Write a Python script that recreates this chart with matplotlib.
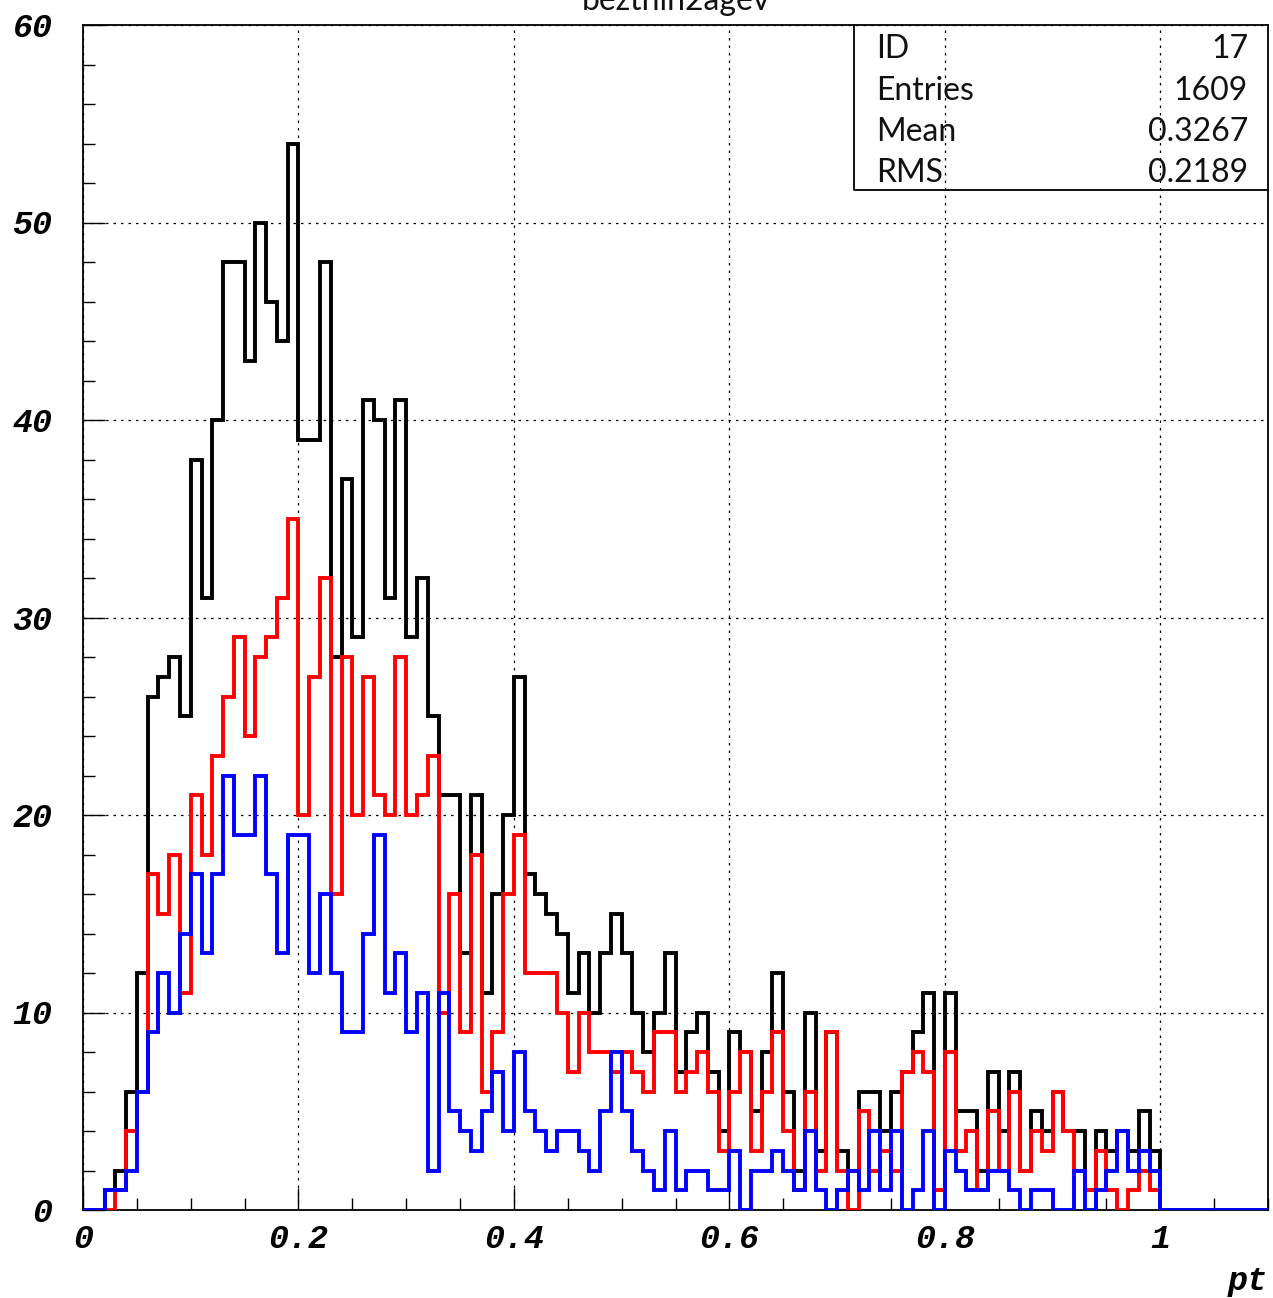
import numpy as np
import matplotlib
matplotlib.use('Agg')
import matplotlib.pyplot as plt
from matplotlib.ticker import MultipleLocator

# bin contents, 110 bins of width 0.01 from 0 to 1.1
total = [0, 0, 1, 2, 6, 12, 26, 27, 28, 25,
         38, 31, 40, 48, 48, 43, 50, 46, 44, 54,
         39, 39, 48, 28, 37, 29, 41, 40, 31, 41,
         29, 32, 25, 21, 21, 13, 21, 11, 16, 20,
         27, 17, 16, 15, 14, 11, 13, 10, 13, 15,
         13, 10, 8, 10, 13, 7, 9, 10, 7, 4,
         9, 8, 5, 8, 12, 6, 2, 10, 3, 9,
         3, 2, 6, 6, 4, 6, 7, 9, 11, 1,
         11, 5, 5, 2, 7, 4, 7, 2, 5, 4,
         6, 4, 4, 1, 4, 3, 4, 3, 5, 3] + [0] * 10

red = [0, 0, 0, 1, 4, 6, 17, 15, 18, 11,
       21, 18, 23, 26, 29, 24, 28, 29, 31, 35,
       20, 27, 32, 16, 28, 20, 27, 21, 20, 28,
       20, 21, 23, 10, 16, 9, 18, 6, 9, 16,
       19, 12, 12, 12, 10, 7, 10, 8, 8, 7,
       8, 7, 6, 9, 9, 6, 7, 8, 6, 3,
       6, 8, 3, 6, 9, 4, 1, 6, 2, 9,
       2, 0, 5, 2, 3, 2, 7, 8, 7, 1,
       8, 3, 4, 1, 5, 2, 6, 2, 4, 3,
       6, 4, 2, 1, 3, 1, 0, 1, 2, 1] + [0] * 10

blue = [0, 0, 1, 1, 2, 6, 9, 12, 10, 14,
        17, 13, 17, 22, 19, 19, 22, 17, 13, 19,
        19, 12, 16, 12, 9, 9, 14, 19, 11, 13,
        9, 11, 2, 11, 5, 4, 3, 5, 7, 4,
        8, 5, 4, 3, 4, 4, 3, 2, 5, 8,
        5, 3, 2, 1, 4, 1, 2, 2, 1, 1,
        3, 0, 2, 2, 3, 2, 1, 4, 1, 0,
        1, 2, 1, 4, 1, 4, 0, 1, 4, 0,
        3, 2, 1, 1, 2, 2, 1, 0, 1, 1,
        0, 0, 2, 0, 1, 2, 4, 2, 3, 2] + [0] * 10

edges = np.round(np.arange(111) * 0.01, 2)

stat_names = ['ID', 'Entries', 'Mean', 'RMS']
stat_values = ['17', '1609', '0.3267', '0.2189']

tick_font = dict(family='Liberation Mono', weight='bold', style='italic', size=24)
thin_font = dict(family='Lato', weight='normal', size=23)

fig = plt.figure(figsize=(12.73, 12.98), dpi=100)
ax = fig.add_axes([83 / 1273, 88 / 1298, 1185 / 1273, 1185 / 1298])

ax.stairs(total, edges, color='black', lw=2.8, zorder=3)
ax.stairs(red, edges, color='#ff0000', lw=2.8, zorder=4)
ax.stairs(blue, edges, color='#0000ff', lw=2.8, zorder=5)

ax.set_xlim(0, 1.1)
ax.set_ylim(0, 60)

ax.xaxis.set_major_locator(MultipleLocator(0.2))
ax.xaxis.set_minor_locator(MultipleLocator(0.05))
ax.yaxis.set_major_locator(MultipleLocator(10))
ax.yaxis.set_minor_locator(MultipleLocator(2))
ax.tick_params(which='both', direction='in', top=False, right=False, width=1)
ax.tick_params(which='major', length=16)
ax.tick_params(which='minor', length=8.5)
ax.tick_params(axis='x', which='major', pad=10)
ax.tick_params(axis='y', which='major', pad=22)

ax.set_xticks([0, 0.2, 0.4, 0.6, 0.8, 1.0])
ax.set_xticklabels(['0', '0.2', '0.4', '0.6', '0.8', '1'], fontdict=tick_font)
ax.set_yticks([0, 10, 20, 30, 40, 50, 60])
ax.set_yticklabels(['0', '10', '20', '30', '40', '50', '60'], fontdict=tick_font)

ax.grid(True, which='major', color='black', lw=0.9, linestyle=(0, (2, 4)))
ax.set_axisbelow(True)
for s in ax.spines.values():
    s.set_linewidth(1.3)

# stats box
bx0 = (854 - 83) / 1185
by0 = (1210 - 190) / 1185
ax.plot([bx0, bx0, 1], [1, by0, by0], transform=ax.transAxes,
        color='black', lw=1.3, clip_on=False, zorder=6)
rows_y = [(1210 - y) / 1185 for y in (49, 91, 132, 173)]
for name, val, yy in zip(stat_names, stat_values, rows_y):
    ax.text((876 - 83) / 1185, yy, name, transform=ax.transAxes,
            ha='left', va='center', color='#111111', **thin_font)
    ax.text((1248 - 83) / 1185, yy, val, transform=ax.transAxes,
            ha='right', va='center', color='#111111', **thin_font)

# title sits half outside the figure, like the original
fig.text(676 / 1273, 1 - 10 / 1298, 'bezthin2agev', ha='center',
         va='baseline', color='#111111', **thin_font)

fig.text(1268 / 1273, 1 - 1290 / 1298, 'pt', ha='right', va='baseline',
         fontdict=tick_font)

plt.savefig('out.png', dpi=100)
